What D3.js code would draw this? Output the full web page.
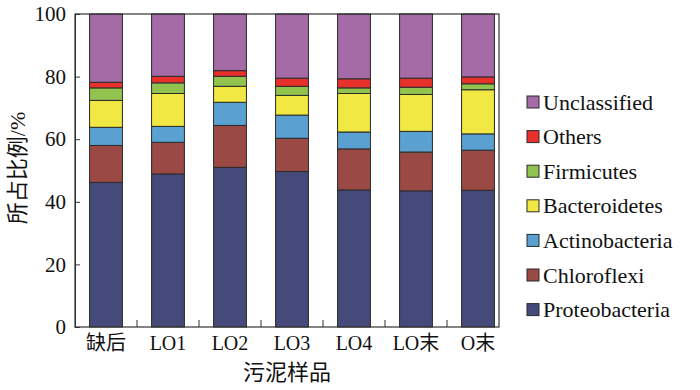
<!DOCTYPE html>
<html>
<head>
<meta charset="utf-8">
<script src="https://cdn.jsdelivr.net/npm/d3@7"></script>
<style>
  body { margin: 0; background: #fff; }
  svg text { font-family: "Liberation Serif", "Times New Roman", Times, serif; fill: #111; }
  svg text.cjk { font-family: "Liberation Serif", "Noto Sans CJK SC", serif; }
</style>
</head>
<body>
<div id="chart"></div>
<script>
// samples and taxa (bottom to top in stack)
var samples = ["缺后", "LO1", "LO2", "LO3", "LO4", "LO末", "O末"];
var taxa = ["Proteobacteria", "Chloroflexi", "Actinobacteria", "Bacteroidetes", "Firmicutes", "Others", "Unclassified"];
var colors = ["#454a7b", "#9b4945", "#5aa0d0", "#f2e844", "#93c34f", "#e8312b", "#a56ba6"];

// relative abundance (%) per taxon, one value per sample
var proteobacteria = [46.2, 48.9, 51.0, 49.7, 43.8, 43.5, 43.7];
var chloroflexi    = [11.8, 10.1, 13.4, 10.6, 13.1, 12.4, 12.8];
var actinobacteria = [5.8, 5.1, 7.4, 7.4, 5.4, 6.6, 5.2];
var bacteroidetes  = [8.6, 10.5, 5.1, 6.3, 12.3, 11.8, 14.1];
var firmicutes     = [4.0, 3.4, 3.2, 2.9, 1.8, 2.3, 1.9];
var others         = [1.8, 2.1, 1.8, 2.6, 2.9, 2.9, 2.2];
var unclassified   = [21.8, 19.9, 18.1, 20.5, 20.7, 20.5, 20.1];
var yTicks = [0, 20, 40, 60, 80, 100];

var series = [proteobacteria, chloroflexi, actinobacteria, bacteroidetes, firmicutes, others, unclassified];
var rows = samples.map(function(s, i) {
  var r = {sample: s};
  taxa.forEach(function(t, k) { r[t] = series[k][i]; });
  return r;
});

var margin = {top: 14, left: 75},
    width = 424,
    height = 313;

var svg = d3.select("#chart")
  .append("svg")
    .attr("width", 700)
    .attr("height", 390);

var g = svg.append("g")
    .attr("transform", "translate(" + margin.left + "," + margin.top + ")");

var x = d3.scaleBand()
    .domain(samples)
    .range([0, 434])
    .paddingInner(0.47)
    .paddingOuter(0.235);

var y = d3.scaleLinear()
    .domain([0, 100])
    .range([height, 0]);

var stacked = d3.stack().keys(taxa)(rows);

g.selectAll("g.layer")
  .data(stacked)
  .enter()
  .append("g")
    .attr("class", "layer")
    .attr("fill", function(d, i) { return colors[i]; })
  .selectAll("rect")
  .data(function(d) { return d; })
  .enter()
  .append("rect")
    .attr("x", function(d) { return x(d.data.sample); })
    .attr("y", function(d) { return y(Math.min(d[1], 100)); })
    .attr("width", x.bandwidth())
    .attr("height", function(d) { return y(d[0]) - y(Math.min(d[1], 100)); })
    .attr("stroke", "#2a2a2a")
    .attr("stroke-width", 1);

// frame
g.append("rect")
    .attr("width", width)
    .attr("height", height)
    .attr("fill", "none")
    .attr("stroke", "#333")
    .attr("stroke-width", 1.2);

// y axis, inward ticks
var yAxis = g.append("g")
    .call(d3.axisLeft(y).tickValues(yTicks).tickSizeInner(-5).tickSizeOuter(0).tickPadding(9));
yAxis.attr("font-family", null);
yAxis.select(".domain").attr("stroke", "#333");
yAxis.selectAll("line").attr("stroke", "#333");
yAxis.selectAll("text").style("font-size", "21px");

// x axis: ticks between bars pointing up, labels under bars
var bounds = samples.slice(1).map(function(s) { return x(s) - x.step() * x.paddingInner() / 2; });
g.selectAll("line.xtick")
  .data(bounds)
  .enter()
  .append("line")
    .attr("class", "xtick")
    .attr("x1", function(d) { return d; })
    .attr("x2", function(d) { return d; })
    .attr("y1", height)
    .attr("y2", height - 7)
    .attr("stroke", "#333");

g.selectAll("text.xlab")
  .data(samples)
  .enter()
  .append("text")
    .attr("class", "xlab cjk")
    .attr("x", function(d) { return x(d) + x.bandwidth() / 2; })
    .attr("y", height + 23)
    .attr("text-anchor", "middle")
    .style("font-size", "20px")
    .text(function(d) { return d; });

// axis titles
svg.append("text")
    .attr("class", "cjk")
    .attr("x", margin.left + width / 2)
    .attr("y", 380)
    .attr("text-anchor", "middle")
    .style("font-size", "22px")
    .text("污泥样品");

svg.append("text")
    .attr("class", "cjk")
    .attr("transform", "translate(25,168) rotate(-90)")
    .attr("text-anchor", "middle")
    .style("font-size", "22px")
    .text("所占比例/%");

// legend (top to bottom: Unclassified ... Proteobacteria)
var legendItems = taxa.slice().reverse();
var legend = svg.selectAll("g.legend")
  .data(legendItems)
  .enter()
  .append("g")
    .attr("class", "legend")
    .attr("transform", function(d, i) { return "translate(527," + (102 + i * 34.6) + ")"; });

legend.append("rect")
    .attr("x", 0)
    .attr("y", -6)
    .attr("width", 12)
    .attr("height", 12)
    .attr("fill", function(d) { return colors[taxa.indexOf(d)]; })
    .attr("stroke", "#2a2a2a");

legend.append("text")
    .attr("x", 16)
    .attr("y", 7.5)
    .style("font-size", "22px")
    .text(function(d) { return d; });
</script>
</body>
</html>
